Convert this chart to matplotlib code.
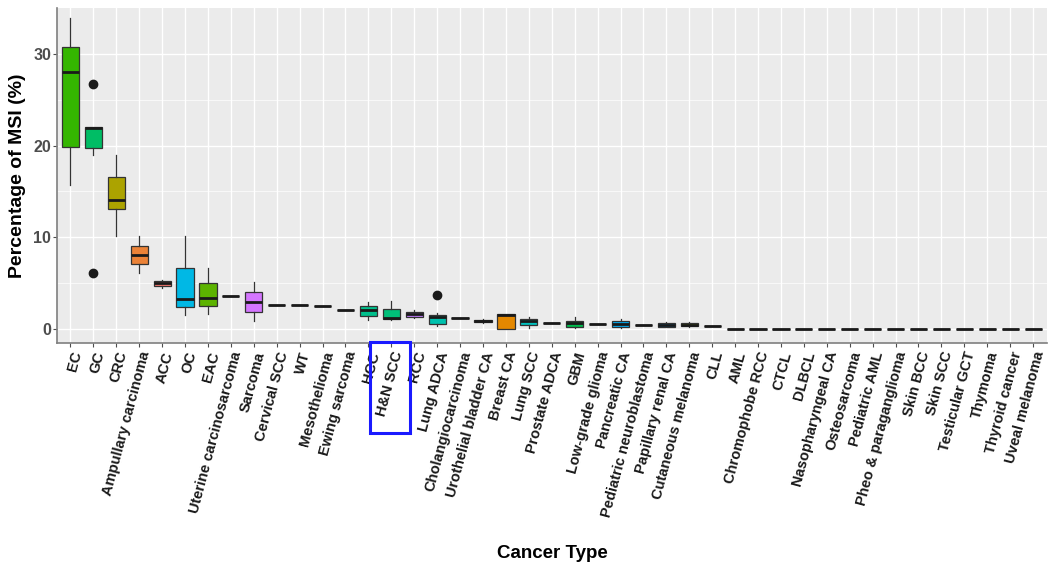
import numpy as np
import matplotlib
matplotlib.use('Agg')
import matplotlib.pyplot as plt
from matplotlib.patches import Rectangle

plt.rcParams['font.family'] = ['Liberation Sans', 'DejaVu Sans']

cancer_types = ['EC', 'GC', 'CRC', 'Ampullary carcinoma', 'ACC', 'OC', 'EAC',
                'Uterine carcinosarcoma', 'Sarcoma', 'Cervical SCC', 'WT',
                'Mesothelioma', 'Ewing sarcoma', 'HCC', 'H&N SCC', 'RCC',
                'Lung ADCA', 'Cholangiocarcinoma', 'Urothelial bladder CA',
                'Breast CA', 'Lung SCC', 'Prostate ADCA', 'GBM',
                'Low-grade glioma', 'Pancreatic CA', 'Pediatric neuroblastoma',
                'Papillary renal CA', 'Cutaneous melanoma', 'CLL', 'AML',
                'Chromophobe RCC', 'CTCL', 'DLBCL', 'Nasopharyngeal CA',
                'Osteosarcoma', 'Pediatric AML', 'Pheo & paraganglioma',
                'Skin BCC', 'Skin SCC', 'Testicular GCT', 'Thymoma',
                'Thyroid cancer', 'Uveal melanoma']

# box statistics (percent)
med = [28.0, 21.9, 14.1, 8.1, 5.0, 3.33, 3.4, 3.66, 3.0, 2.6, 2.6, 2.55, 2.13,
       2.07, 1.27, 1.63, 1.38, 1.27, 0.9, 1.55, 0.87, 0.69, 0.62, 0.58, 0.58,
       0.5, 0.47, 0.5, 0.4] + [0.05] * 14
q1 = [19.9, 19.75, 13.1, 7.07, 4.7, 2.4, 2.5, 3.66, 1.9, 2.6, 2.6, 2.55, 2.13,
      1.45, 1.09, 1.34, 0.54, 1.27, 0.76, 0.07, 0.43, 0.69, 0.22, 0.58, 0.26,
      0.5, 0.26, 0.33, 0.4] + [0.05] * 14
q3 = [30.7, 22.0, 16.6, 9.05, 5.2, 6.7, 5.0, 3.66, 4.06, 2.6, 2.6, 2.55, 2.13,
      2.53, 2.17, 1.85, 1.59, 1.27, 1.05, 1.6, 1.09, 0.69, 0.91, 0.58, 0.87,
      0.5, 0.65, 0.69, 0.4] + [0.05] * 14
whisk_lo = [15.7, 19.0, 10.1, 6.1, 4.5, 1.5, 1.7, 3.66, 0.9, 2.6, 2.6, 2.55,
            2.13, 1.0, 1.05, 1.2, 0.36, 1.27, 0.7, 0.0, 0.15, 0.69, 0.15, 0.58,
            0.15, 0.5, 0.2, 0.2, 0.4] + [0.05] * 14
whisk_hi = [33.9, 22.0, 19.0, 10.1, 5.4, 10.1, 6.7, 3.66, 5.1, 2.6, 2.6, 2.55,
            2.13, 2.97, 3.08, 2.07, 1.8, 1.27, 1.1, 1.7, 1.3, 0.69, 1.38, 0.58,
            1.16, 0.5, 0.75, 0.8, 0.4] + [0.05] * 14
outlier_type = ['GC', 'GC', 'Lung ADCA']
outlier_val = [26.7, 6.1, 3.7]


def hcl_hex(h, c=100.0, l=65.0):
    # ggplot2 hue palette colour (polar Luv -> sRGB)
    xn, yn, zn = 95.047, 100.0, 108.883
    un = 4 * xn / (xn + 15 * yn + 3 * zn)
    vn = 9 * yn / (xn + 15 * yn + 3 * zn)
    u = c * np.cos(np.radians(h))
    v = c * np.sin(np.radians(h))
    Y = yn * ((l + 16) / 116) ** 3
    up = u / (13 * l) + un
    vp = v / (13 * l) + vn
    X = Y * 9 * up / (4 * vp)
    Z = Y * (12 - 3 * up - 20 * vp) / (4 * vp)
    m = np.array([[3.2404542, -1.5371385, -0.4985314],
                  [-0.9692660, 1.8760108, 0.0415560],
                  [0.0556434, -0.2040259, 1.0572252]])
    rgb = m @ (np.array([X, Y, Z]) / 100)
    rgb = np.where(rgb <= 0.0031308, 12.92 * rgb,
                   1.055 * np.clip(rgb, 0, None) ** (1 / 2.4) - 0.055)
    return tuple(np.clip(rgb, 0, 1))


# fill follows alphabetical order of the names, like ggplot's default
alpha = sorted(cancer_types, key=lambda s: s.lower())
n = len(cancer_types)
hues = np.linspace(15, 375, n + 1)[:n]
fills = [hcl_hex(hues[alpha.index(name)]) for name in cancer_types]

stats = []
for i, name in enumerate(cancer_types):
    fl = [v for t, v in zip(outlier_type, outlier_val) if t == name]
    stats.append(dict(med=med[i], q1=q1[i], q3=q3[i], whislo=whisk_lo[i],
                      whishi=whisk_hi[i], fliers=fl, label=name))

fig = plt.figure(figsize=(10.5, 5.65), dpi=100)
ax = fig.add_axes([0.054, 0.393, 0.943, 0.593])
ax.set_facecolor('#EBEBEB')

pos = np.arange(n)
bp = ax.bxp(stats, positions=pos, widths=0.75, patch_artist=True,
            showcaps=False, zorder=3,
            boxprops=dict(edgecolor='#333333', linewidth=0.9),
            whiskerprops=dict(color='#333333', linewidth=0.9),
            medianprops=dict(color='#1a1a1a', linewidth=2.0),
            flierprops=dict(marker='o', markerfacecolor='#1a1a1a',
                            markeredgecolor='#1a1a1a', markersize=6))
for patch, col in zip(bp['boxes'], fills):
    patch.set_facecolor(col)

ax.set_xlim(-0.6, n - 0.4)
ax.set_ylim(-1.5, 35.0)
ax.set_yticks([0, 10, 20, 30])
ax.set_yticks([5, 15, 25], minor=True)
ax.set_xticks(pos)
ax.set_xticklabels(cancer_types, rotation=75, ha='right', va='top',
                   rotation_mode='anchor', fontsize=10.5, fontweight='bold',
                   color='#1a1a1a')
ax.tick_params(axis='y', labelsize=11.5, colors='#4D4D4D', length=3,
               width=0.8, labelcolor='#4D4D4D', pad=1)
for lab in ax.get_yticklabels():
    lab.set_fontweight('bold')
ax.tick_params(axis='x', length=3, width=0.8, color='#4D4D4D', pad=2)
ax.tick_params(axis='y', which='minor', length=0)

ax.grid(True, which='major', color='white', linewidth=1.0, zorder=0)
ax.grid(True, which='minor', axis='y', color='white', linewidth=0.5, zorder=0)
ax.set_axisbelow(True)
for side in ['top', 'right']:
    ax.spines[side].set_visible(False)
for side in ['left', 'bottom']:
    ax.spines[side].set_color('#7F7F7F')
    ax.spines[side].set_linewidth(1.2)

ax.set_ylabel('Percentage of MSI (%)', fontsize=14, fontweight='bold',
              labelpad=5)
fig.text(0.526, 0.006, 'Cancer Type', fontsize=13.5, fontweight='bold',
         ha='center', va='bottom')

# blue highlight box round the H&N SCC label
fig.canvas.draw()
bb = ax.get_xticklabels()[cancer_types.index('H&N SCC')].get_window_extent()
ax_bb = ax.get_window_extent()
x0, x1 = bb.x0 - 4, bb.x1 + 5
y0, y1 = bb.y0 - 15, ax_bb.y0 + 1
inv = fig.transFigure.inverted()
(fx0, fy0), (fx1, fy1) = inv.transform([(x0, y0), (x1, y1)])
fig.patches.append(Rectangle((fx0, fy0), fx1 - fx0, fy1 - fy0,
                             transform=fig.transFigure, fill=False,
                             edgecolor='#1a1aff', linewidth=2.2))

fig.savefig('out.png', dpi=100)
